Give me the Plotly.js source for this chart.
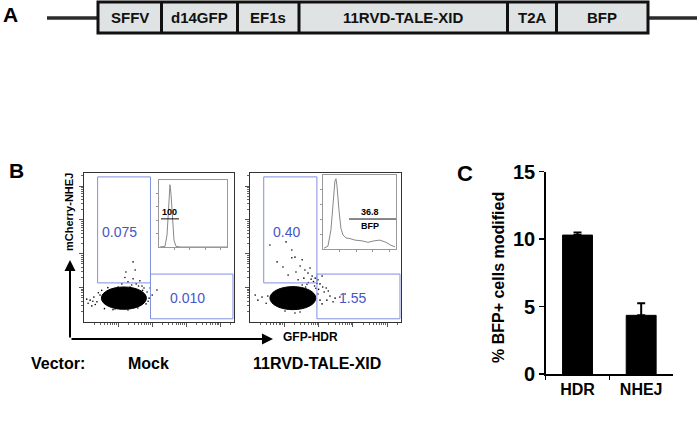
<!DOCTYPE html>
<html>
<head>
<meta charset="utf-8">
<script src="https://cdn.plot.ly/plotly-3.0.1.min.js"></script>
<style>html,body{margin:0;padding:0;background:#fff}#chart{width:697px;height:421px}</style>
</head>
<body>
<div id="chart"></div>
<script>
// ---------- DATA ----------
// Panel C bar chart
var barCategories = ['HDR', 'NHEJ'];
var barValues = [10.3, 4.35];
var barErrors = [0.2, 0.9];
var barTicks = [0, 5, 10, 15];

// Panel A construct segments
var constructSegments = ['SFFV', 'd14GFP', 'EF1s', '11RVD-TALE-XID', 'T2A', 'BFP'];

// Panel B flow plots (log decades)
var panelNames = ['Mock', '11RVD-TALE-XID'];
var upperGateX = [0.40, 1.95];
var upperGateY = [1.14, 4.27];
var lowerGateX = [1.95, 4.37];
var lowerGateY = [0.08, 1.40];
var upperGateValues = ['0.075', '0.40'];
var lowerGateValues = ['0.010', '1.55'];

// dense population core (centre / half-widths in decades)
var blobCenterX = [1.17, 1.25];
var blobCenterY = [0.69, 0.69];
var blobHalfX = [0.66, 0.67];
var blobHalfY = [0.33, 0.34];

// sparse events
var mockEventsX = [0.18,0.29,0.12,0.38,0.47,0.23,1.11,1.29,1.44,1.53,1.64,1.23,1.50,1.44,1.35,1.76,1.00,1.85,1.91,1.82,1.94,2.14,0.91,1.29,1.58,0.42,0.33,1.70,0.70,0.85,0.08,0.26,0.52,1.40,1.60,1.72,1.20,0.60,1.88,2.00];
var mockEventsY = [0.63,0.72,0.54,0.58,0.78,0.46,1.11,1.17,1.26,1.11,1.20,1.46,1.52,1.76,1.02,0.99,1.02,0.87,0.69,0.52,0.99,0.93,0.37,0.34,0.40,0.85,0.50,1.05,1.00,0.35,0.66,0.60,0.92,1.08,1.05,0.92,1.30,0.38,0.60,0.78];
var xidEventsX = [1.22,1.31,1.52,0.96,1.69,1.90,1.22,1.46,1.60,1.75,1.34,1.81,1.98,2.04,2.10,1.57,1.11,1.40,2.22,2.16,2.33,2.48,2.62,2.24,2.42,2.77,2.04,2.10,1.98,0.23,0.35,0.47,0.15,0.52,1.02,1.46,1.31,1.05,0.58,0.79,1.88,1.70,2.00,1.62,1.85,1.95,2.28,1.78,1.66,1.52,2.12,1.92];
var xidEventsY = [2.11,1.90,1.82,1.61,1.43,1.28,1.88,1.64,1.52,1.58,1.46,1.34,1.23,1.11,1.34,1.28,1.37,1.23,0.99,0.87,0.75,0.69,0.72,0.63,0.58,0.81,0.63,0.52,0.81,0.63,0.72,0.54,0.78,0.75,0.31,0.28,0.25,2.35,2.26,1.76,1.05,1.15,0.95,1.02,1.18,1.12,0.90,1.25,1.10,1.08,1.02,0.98];

// BFP histograms (decades, % of max)
var mockHistX = [0.06,0.39,0.52,0.61,0.71,0.78,0.87,0.97,1.10,1.36,4.40];
var mockHistY = [0,1,18,55,93,78,40,10,1,0,0];
var xidHistX = [0.06,0.30,0.48,0.60,0.72,0.78,0.84,0.96,1.08,1.20,1.39,1.63,1.93,2.35,2.71,3.07,3.43,3.80,4.10,4.34];
var xidHistY = [1,4,26,66,92,95,86,53,28,19,15,14,12,11,9,11,12,9,5,3];
var histGateLabels = ['100', '36.8'];
var histGateX = [[0.13, 1.29], [1.57, 4.40]];
var histGateY = [42, 40.5];

// ---------- LAYOUT HELPERS ----------
var W = 697, H = 421;
function px(x){ return x / W; }
function py(y){ return 1 - y / H; }
var FONT = 'Liberation Sans, Arial, sans-serif';
var NARROW = 'Liberation Sans Narrow, Arial Narrow, Liberation Sans, sans-serif';
var BLUE_TXT = '#4656c8';
var BLUE_GATE = '#8090de';

var minorFlow = [];
for (var d = 0; d < 5; d++) for (var m = 2; m <= 9; m++) { var v = d + Math.log10(m); if (v < 4.4) minorFlow.push(v); }

function flowAxis(domain, anchor) {
  return {domain: domain, anchor: anchor, range: [0, 4.4], showgrid: false, zeroline: false,
    showline: true, mirror: true, linecolor: '#333', linewidth: 1,
    ticks: 'outside', ticklen: 4, tickcolor: '#555', tickwidth: 1,
    tickmode: 'array', tickvals: [1, 2, 3, 4], showticklabels: false,
    minor: {ticks: 'outside', ticklen: 2, tickcolor: '#666', tickmode: 'array', tickvals: minorFlow},
    fixedrange: true};
}
function insetAxis(domain, anchor, range) {
  return {domain: domain, anchor: anchor, range: range, showgrid: false, zeroline: false,
    showline: true, mirror: true, linecolor: '#999', linewidth: 1,
    ticks: 'outside', ticklen: 2, tickcolor: '#999',
    tickmode: 'array', tickvals: range[1] > 50 ? [20, 40, 60, 80] : [1, 2, 3, 4], showticklabels: false,
    fixedrange: true};
}

// ---------- TRACES ----------
var traces = [
  {type: 'bar', x: barCategories, y: barValues, xaxis: 'x', yaxis: 'y',
   marker: {color: '#000', line: {color: '#000', width: 1}}, width: 0.47,
   error_y: {type: 'data', array: barErrors, arrayminus: [0, 0], symmetric: false,
             visible: true, color: '#000', thickness: 2, width: 4}},
  {type: 'scatter', mode: 'markers', x: mockEventsX, y: mockEventsY, xaxis: 'x2', yaxis: 'y2',
   marker: {color: '#000', size: 1.6}},
  {type: 'scatter', mode: 'markers', x: xidEventsX, y: xidEventsY, xaxis: 'x3', yaxis: 'y3',
   marker: {color: '#000', size: 1.6}},
  {type: 'scatter', mode: 'lines', x: mockHistX, y: mockHistY, xaxis: 'x4', yaxis: 'y4',
   line: {color: '#888', width: 1}},
  {type: 'scatter', mode: 'lines', x: xidHistX, y: xidHistY, xaxis: 'x5', yaxis: 'y5',
   line: {color: '#888', width: 1}}
];

// ---------- SHAPES ----------
var shapes = [];
// Panel A construct
var segBounds = [98, 161.5, 237.5, 299, 507.5, 556.5, 648];
shapes.push({type: 'line', xref: 'paper', yref: 'paper', x0: px(47), x1: px(98), y0: py(18), y1: py(18), line: {color: '#2b2b2b', width: 3.5}});
shapes.push({type: 'line', xref: 'paper', yref: 'paper', x0: px(648), x1: px(697), y0: py(18), y1: py(18), line: {color: '#2b2b2b', width: 3.5}});
shapes.push({type: 'rect', xref: 'paper', yref: 'paper', x0: px(segBounds[0]), x1: px(segBounds[6]), y0: py(33), y1: py(2), fillcolor: '#dfe3e3', line: {color: '#111', width: 3}});
for (var i = 1; i < segBounds.length - 1; i++) {
  shapes.push({type: 'line', xref: 'paper', yref: 'paper', x0: px(segBounds[i]), x1: px(segBounds[i]), y0: py(33), y1: py(2), line: {color: '#111', width: 3}});
}
// Panel B gates and cores
var flowRefs = [['x2', 'y2'], ['x3', 'y3']];
for (var p = 0; p < 2; p++) {
  var xr = flowRefs[p][0], yr = flowRefs[p][1];
  shapes.push({type: 'circle', xref: xr, yref: yr, x0: blobCenterX[p] - blobHalfX[p], x1: blobCenterX[p] + blobHalfX[p],
    y0: blobCenterY[p] - blobHalfY[p], y1: blobCenterY[p] + blobHalfY[p], fillcolor: '#000', line: {color: '#000', width: 1}});
  shapes.push({type: 'rect', xref: xr, yref: yr, x0: upperGateX[0], x1: upperGateX[1], y0: upperGateY[0], y1: upperGateY[1], line: {color: BLUE_GATE, width: 1}});
  shapes.push({type: 'rect', xref: xr, yref: yr, x0: lowerGateX[0], x1: lowerGateX[1], y0: lowerGateY[0], y1: lowerGateY[1], line: {color: BLUE_GATE, width: 1}});
}
var insetRefs = [['x4', 'y4'], ['x5', 'y5']];
for (var q = 0; q < 2; q++) {
  shapes.push({type: 'line', xref: insetRefs[q][0], yref: insetRefs[q][1], x0: histGateX[q][0], x1: histGateX[q][1], y0: histGateY[q], y1: histGateY[q], line: {color: '#111', width: 1}});
}

// ---------- ANNOTATIONS ----------
var ann = [];
function txt(x, y, t, size, opts) {
  var a = {xref: 'paper', yref: 'paper', x: px(x), y: py(y), text: t, showarrow: false,
    xanchor: 'center', yanchor: 'middle', font: {family: FONT, size: size, color: '#000', weight: 'bold'}};
  for (var k in (opts || {})) a[k] = opts[k];
  ann.push(a);
}
txt(10, 14, 'A', 21);
txt(16, 170, 'B', 21);
txt(465, 173, 'C', 22);
for (var s = 0; s < constructSegments.length; s++) {
  txt((segBounds[s] + segBounds[s + 1]) / 2, 17, constructSegments[s], 15, {font: {family: NARROW, size: 15, color: '#111', weight: 'bold'}});
}
txt(69, 212, 'mCherry-NHEJ', 11, {textangle: -90});
txt(310, 337, 'GFP-HDR', 12);
txt(58, 363, 'Vector:', 16);
txt(148, 363, panelNames[0], 16);
txt(317, 363, panelNames[1], 16);
txt(498, 278, '% BFP+ cells modified', 16, {textangle: -90});
// arrows
ann.push({xref: 'paper', yref: 'paper', x: px(70), y: py(260), ax: 0, ay: 79, text: '', showarrow: true,
  arrowhead: 2, arrowsize: 1.1, arrowwidth: 2, arrowcolor: '#000', standoff: 0});
ann.push({xref: 'paper', yref: 'paper', x: px(273), y: py(339), ax: -203, ay: 0, text: '', showarrow: true,
  arrowhead: 2, arrowsize: 1.1, arrowwidth: 2, arrowcolor: '#000', standoff: 0});
// gate values
var upperLabelPos = [[1.03, 2.64], [1.05, 2.64]];
var lowerLabelPos = [[3.05, 0.69], [3.0, 0.69]];
for (var g = 0; g < 2; g++) {
  ann.push({xref: flowRefs[g][0], yref: flowRefs[g][1], x: upperLabelPos[g][0], y: upperLabelPos[g][1], text: upperGateValues[g], showarrow: false,
    font: {family: FONT, size: 14, color: BLUE_TXT}});
  ann.push({xref: flowRefs[g][0], yref: flowRefs[g][1], x: lowerLabelPos[g][0], y: lowerLabelPos[g][1], text: lowerGateValues[g], showarrow: false,
    font: {family: FONT, size: 14, color: BLUE_TXT}});
}
ann.push({xref: 'x4', yref: 'y4', x: 0.71, y: 52, text: histGateLabels[0], showarrow: false, font: {family: FONT, size: 9, color: '#000', weight: 'bold'}});
ann.push({xref: 'x5', yref: 'y5', x: 2.83, y: 50, text: histGateLabels[1], showarrow: false, font: {family: FONT, size: 9, color: '#000', weight: 'bold'}});
ann.push({xref: 'x5', yref: 'y5', x: 2.83, y: 31, text: 'BFP', showarrow: false, font: {family: FONT, size: 9, color: '#000', weight: 'bold'}});

// ---------- LAYOUT ----------
var layout = {
  width: W, height: H, margin: {l: 0, r: 0, t: 0, b: 0, pad: 0},
  paper_bgcolor: '#fff', plot_bgcolor: 'rgba(0,0,0,0)', showlegend: false, hovermode: false,
  font: {family: FONT, color: '#000'},
  xaxis: {domain: [px(545.7), px(673)], anchor: 'y', range: [-0.5, 1.5], type: 'category',
    showline: true, linecolor: '#000', linewidth: 1.5, showgrid: false, zeroline: false,
    ticks: 'outside', tickson: 'boundaries', ticklen: 4, tickwidth: 1.5, tickcolor: '#000',
    tickfont: {family: FONT, size: 16, color: '#000', weight: 'bold'}, fixedrange: true},
  yaxis: {domain: [py(374), py(171.7)], anchor: 'x', range: [0, 15],
    showline: true, linecolor: '#000', linewidth: 1.5, showgrid: false, zeroline: false,
    ticks: 'outside', ticklen: 5, tickwidth: 1.5, tickcolor: '#000',
    tickmode: 'array', tickvals: barTicks, ticktext: barTicks.map(String),
    tickfont: {family: FONT, size: 20, color: '#000', weight: 'bold'}, fixedrange: true},
  xaxis2: flowAxis([px(84), px(234)], 'y2'),
  yaxis2: flowAxis([py(321.5), py(172.5)], 'x2'),
  xaxis3: flowAxis([px(250), px(401)], 'y3'),
  yaxis3: flowAxis([py(321.5), py(172.5)], 'x3'),
  xaxis4: insetAxis([px(159), px(227)], 'y4', [0, 4.4]),
  yaxis4: insetAxis([py(247), py(180)], 'x4', [0, 100]),
  xaxis5: insetAxis([px(323), px(396)], 'y5', [0, 4.4]),
  yaxis5: insetAxis([py(249), py(175)], 'x5', [0, 100]),
  shapes: shapes,
  annotations: ann
};

Plotly.newPlot('chart', traces, layout, {staticPlot: true, displayModeBar: false});
</script>
</body>
</html>
